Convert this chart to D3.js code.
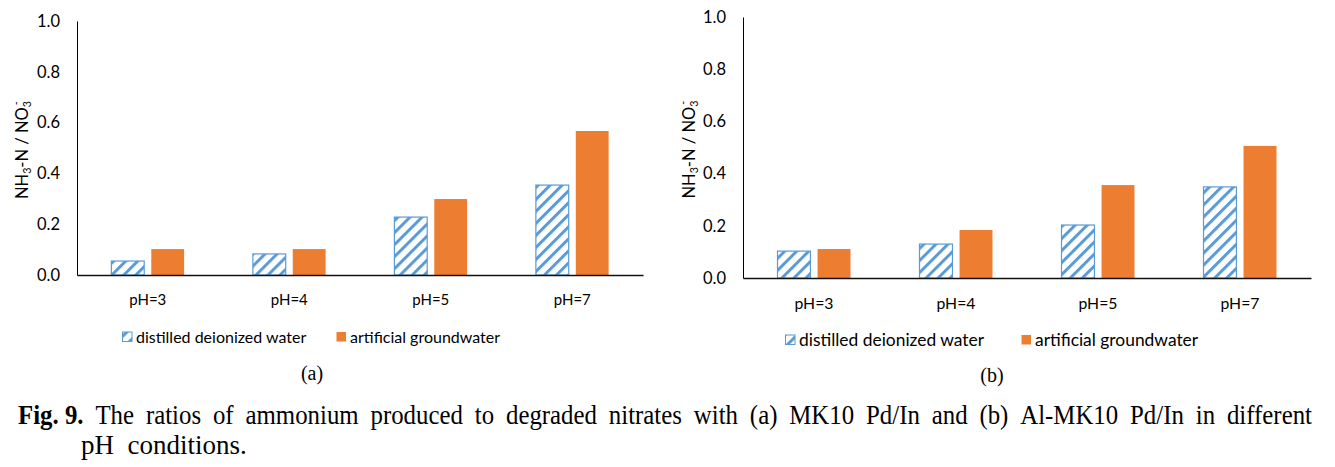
<!DOCTYPE html>
<html>
<head>
<meta charset="utf-8">
<script src="https://cdn.jsdelivr.net/npm/d3@7"></script>
<style>
  body { margin: 0; background: #fff; }
  svg { display: block; }
  .tick text { font-family: Lato, "Open Sans", sans-serif; fill: #000; }
</style>
</head>
<body>
<div id="vis"></div>
<script>
// categories and values
const categories = ['pH=3', 'pH=4', 'pH=5', 'pH=7'];
const seriesNames = ['distilled deionized water', 'artificial groundwater'];
const distilledA = [0.055, 0.083, 0.228, 0.354];
const groundA = [0.102, 0.102, 0.299, 0.567];
const distilledB = [0.103, 0.130, 0.203, 0.349];
const groundB = [0.111, 0.184, 0.356, 0.506];
const yTicks = [0, 0.2, 0.4, 0.6, 0.8, 1.0];
const captionLine1 = 'The ratios of ammonium produced to degraded nitrates with (a) MK10 Pd/In and (b) Al-MK10 Pd/In in different';
const captionLine2 = 'pH  conditions.';

const blue = '#5B9BD5';
const orange = '#ED7D31';

const svg = d3.select('#vis')
  .append('svg')
  .attr('width', 1335)
  .attr('height', 467);

// diagonal hatch for the distilled water bars
const defs = svg.append('defs');
const pat = defs.append('pattern')
  .attr('id', 'hatch')
  .attr('patternUnits', 'userSpaceOnUse')
  .attr('width', 8.5)
  .attr('height', 8.5)
  .attr('patternTransform', 'rotate(45)');
pat.append('rect').attr('width', 8.5).attr('height', 8.5).attr('fill', '#fff');
pat.append('rect').attr('width', 3).attr('height', 8.5).attr('fill', blue);

const panels = [
  {left: 77, top: 21, base: 275, right: 643, values: [distilledA, groundA],
    tickFont: 16.5, catFont: 15, legFont: 16, titleFont: 16.5, labelX: 22, catPad: 19,
    legendY: 337, legendX: 122, legendGap: 214, tag: '(a)', tagX: 312, tagY: 380},
  {left: 743, top: 17, base: 278, right: 1311, values: [distilledB, groundB],
    tickFont: 16.5, catFont: 15.8, legFont: 17.4, titleFont: 16.5, labelX: 689, catPad: 20,
    legendY: 340, legendX: 785, legendGap: 236, tag: '(b)', tagX: 992, tagY: 382},
];

panels.forEach(drawPanel);

function drawPanel(p) {
  const g = svg.append('g');

  const x = d3.scaleBand()
    .domain(categories)
    .range([p.left, p.right])
    .paddingInner(0)
    .paddingOuter(0);

  const y = d3.scaleLinear()
    .domain([0, 1])
    .range([p.base, p.top]);

  const step = x.bandwidth();
  const barW = step * 0.232;
  const gap = step * 0.05;

  // bars
  p.values.forEach((vals, s) => {
    g.selectAll('.bar' + s)
      .data(vals)
      .enter()
      .append('rect')
      .attr('x', (d, i) => {
        const c = x(categories[i]) + step / 2;
        return s === 0 ? c - gap / 2 - barW : c + gap / 2;
      })
      .attr('y', (d) => y(d))
      .attr('width', barW)
      .attr('height', (d) => p.base - y(d))
      .attr('fill', s === 0 ? 'url(#hatch)' : orange)
      .attr('stroke', s === 0 ? blue : 'none')
      .attr('stroke-width', 1.2);
  });

  // y axis
  g.append('g')
    .attr('transform', 'translate(' + p.left + ',0)')
    .call(d3.axisLeft(y).tickValues(yTicks).tickFormat(d3.format('.1f'))
      .tickSize(0).tickPadding(17))
    .call((a) => a.select('.domain').attr('stroke', '#000').attr('stroke-width', 1))
    .selectAll('text')
    .style('font-size', p.tickFont + 'px');

  // x axis
  g.append('g')
    .attr('transform', 'translate(0,' + p.base + ')')
    .call(d3.axisBottom(x).tickSize(0).tickPadding(p.catPad))
    .call((a) => a.select('.domain').attr('stroke', '#111').attr('stroke-width', 1.5))
    .selectAll('text')
    .style('font-size', p.catFont + 'px');

  // y axis title
  const t = g.append('text')
    .attr('transform', 'translate(' + p.labelX + ',' + ((p.top + p.base) / 2 + 2) + ') rotate(-90)')
    .attr('text-anchor', 'middle')
    .attr('dy', '0.35em')
    .style('font-family', 'Lato, "Open Sans", sans-serif')
    .style('font-size', p.titleFont + 'px');
  t.append('tspan').text('NH');
  t.append('tspan').text('3').attr('baseline-shift', '-25%').style('font-size', '0.65em');
  t.append('tspan').text('-N / NO');
  t.append('tspan').text('3').attr('baseline-shift', '-25%').style('font-size', '0.65em');
  t.append('tspan').text('-').attr('dx', '-0.4em').attr('baseline-shift', '75%').style('font-size', '0.65em');

  // legend
  seriesNames.forEach((name, s) => {
    const lx = p.legendX + s * p.legendGap;
    g.append('rect')
      .attr('x', lx + 0.5)
      .attr('y', p.legendY - 5)
      .attr('width', 9.5)
      .attr('height', 9.5)
      .attr('fill', s === 0 ? 'url(#hatch)' : orange)
      .attr('stroke', s === 0 ? blue : 'none');
    g.append('text')
      .attr('x', lx + 14)
      .attr('y', p.legendY)
      .attr('dy', '0.35em')
      .style('font-family', 'Lato, "Open Sans", sans-serif')
      .style('font-size', p.legFont + 'px')
      .text(name);
  });

  g.append('text')
    .attr('x', p.tagX)
    .attr('y', p.tagY)
    .attr('text-anchor', 'middle')
    .style('font-family', '"Liberation Serif", "Times New Roman", serif')
    .style('font-size', '20px')
    .text(p.tag);
}

// caption, first line justified between 18 and 1312
const cap = svg.append('g')
  .style('font-family', '"Liberation Serif", "Times New Roman", serif')
  .style('font-size', '27px');
const words = ['Fig. 9.'].concat(captionLine1.split(' '));
const nodes = words.map((w, i) => cap.append('text')
  .attr('y', 424)
  .style('font-weight', i === 0 ? 'bold' : 'normal')
  .text(w));
const widths = nodes.map((n) => n.node().getComputedTextLength());
const total = d3.sum(widths);
const span = 1312 - 18;
const sx = Math.min(0.92, (span - (words.length - 1) * 10) / total);
const space = (span - total * sx) / (words.length - 1);
let cx = 18;
nodes.forEach((n, i) => {
  n.attr('transform', 'translate(' + cx + ',0) scale(' + sx + ',1)');
  cx += widths[i] * sx + space;
});
cap.append('text')
  .attr('x', 81)
  .attr('y', 454)
  .style('white-space', 'pre')
  .text(captionLine2);
</script>
</body>
</html>
